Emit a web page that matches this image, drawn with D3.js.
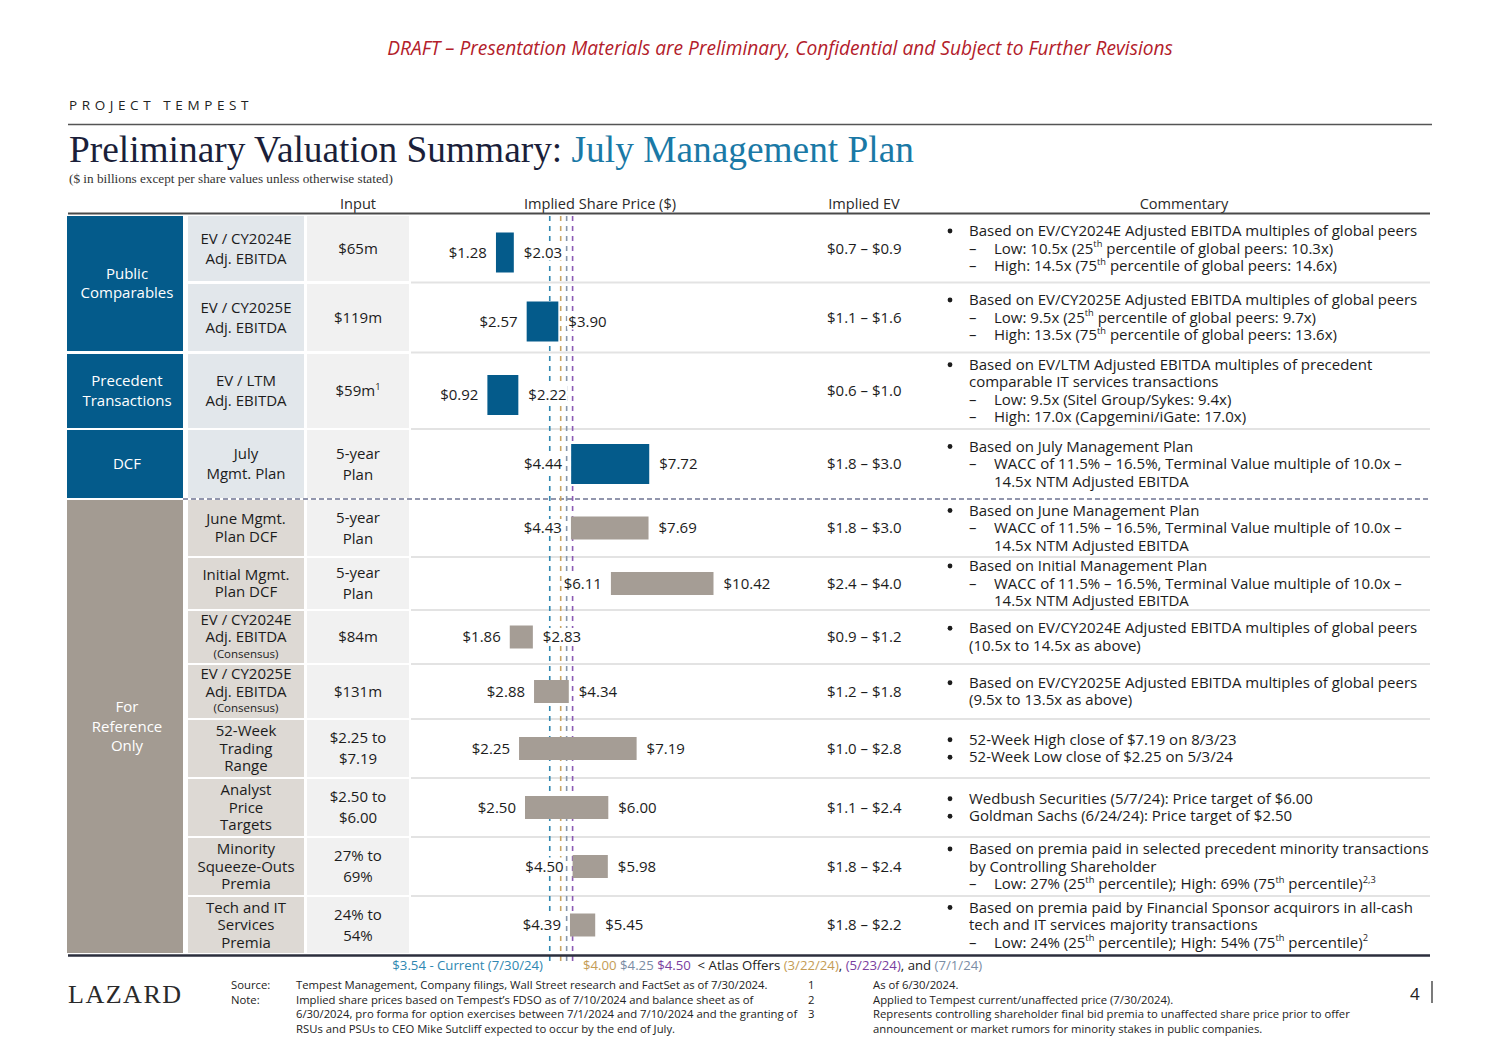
<!DOCTYPE html>
<html>
<head>
<meta charset="utf-8">
<script src="https://cdn.jsdelivr.net/npm/d3@7"></script>
<style>
  body { margin: 0; background: #fff; }
  svg { display: block; }
</style>
</head>
<body>
<svg id="chart" width="1500" height="1060"></svg>
<script>
// ---- data ----
const groupNames = [["Public", "Comparables"], ["Precedent", "Transactions"], ["DCF"], ["For", "Reference", "Only"]];
const groupRows = [[0, 1], [2, 2], [3, 3], [4, 11]];

const metricLabels = [
  ["EV / CY2024E", "Adj. EBITDA"],
  ["EV / CY2025E", "Adj. EBITDA"],
  ["EV / LTM", "Adj. EBITDA"],
  ["July", "Mgmt. Plan"],
  ["June Mgmt.", "Plan DCF"],
  ["Initial Mgmt.", "Plan DCF"],
  ["EV / CY2024E", "Adj. EBITDA", "(Consensus)"],
  ["EV / CY2025E", "Adj. EBITDA", "(Consensus)"],
  ["52-Week", "Trading", "Range"],
  ["Analyst", "Price", "Targets"],
  ["Minority", "Squeeze-Outs", "Premia"],
  ["Tech and IT", "Services", "Premia"]
];

const inputLabels = [
  ["$65m"], ["$119m"], ["$59m^1^"], ["5-year", "Plan"], ["5-year", "Plan"], ["5-year", "Plan"],
  ["$84m"], ["$131m"], ["$2.25 to", "$7.19"], ["$2.50 to", "$6.00"], ["27% to", "69%"], ["24% to", "54%"]
];

const lowPrices  = [1.28, 2.57, 0.92, 4.44, 4.43, 6.11, 1.86, 2.88, 2.25, 2.50, 4.50, 4.39];
const highPrices = [2.03, 3.90, 2.22, 7.72, 7.69, 10.42, 2.83, 4.34, 7.19, 6.00, 5.98, 5.45];

const impliedEV = [
  "$0.7 – $0.9", "$1.1 – $1.6", "$0.6 – $1.0", "$1.8 – $3.0", "$1.8 – $3.0", "$2.4 – $4.0",
  "$0.9 – $1.2", "$1.2 – $1.8", "$1.0 – $2.8", "$1.1 – $2.4", "$1.8 – $2.4", "$1.8 – $2.2"
];

// b = bullet, bc = bullet continued, d = dash, dc = dash continued
const commentary = [
  [["b", "Based on EV/CY2024E Adjusted EBITDA multiples of global peers"],
   ["d", "Low: 10.5x (25^th^ percentile of global peers: 10.3x)"],
   ["d", "High: 14.5x (75^th^ percentile of global peers: 14.6x)"]],
  [["b", "Based on EV/CY2025E Adjusted EBITDA multiples of global peers"],
   ["d", "Low: 9.5x (25^th^ percentile of global peers: 9.7x)"],
   ["d", "High: 13.5x (75^th^ percentile of global peers: 13.6x)"]],
  [["b", "Based on EV/LTM Adjusted EBITDA multiples of precedent"],
   ["bc", "comparable IT services transactions"],
   ["d", "Low: 9.5x (Sitel Group/Sykes: 9.4x)"],
   ["d", "High: 17.0x (Capgemini/iGate: 17.0x)"]],
  [["b", "Based on July Management Plan"],
   ["d", "WACC of 11.5% – 16.5%, Terminal Value multiple of 10.0x –"],
   ["dc", "14.5x NTM Adjusted EBITDA"]],
  [["b", "Based on June Management Plan"],
   ["d", "WACC of 11.5% – 16.5%, Terminal Value multiple of 10.0x –"],
   ["dc", "14.5x NTM Adjusted EBITDA"]],
  [["b", "Based on Initial Management Plan"],
   ["d", "WACC of 11.5% – 16.5%, Terminal Value multiple of 10.0x –"],
   ["dc", "14.5x NTM Adjusted EBITDA"]],
  [["b", "Based on EV/CY2024E Adjusted EBITDA multiples of global peers"],
   ["bc", "(10.5x to 14.5x as above)"]],
  [["b", "Based on EV/CY2025E Adjusted EBITDA multiples of global peers"],
   ["bc", "(9.5x to 13.5x as above)"]],
  [["b", "52-Week High close of $7.19 on 8/3/23"],
   ["b", "52-Week Low close of $2.25 on 5/3/24"]],
  [["b", "Wedbush Securities (5/7/24): Price target of $6.00"],
   ["b", "Goldman Sachs (6/24/24): Price target of $2.50"]],
  [["b", "Based on premia paid in selected precedent minority transactions"],
   ["bc", "by Controlling Shareholder"],
   ["d", "Low: 27% (25^th^ percentile); High: 69% (75^th^ percentile)^2,3^"]],
  [["b", "Based on premia paid by Financial Sponsor acquirors in all-cash"],
   ["bc", "tech and IT services majority transactions"],
   ["d", "Low: 24% (25^th^ percentile); High: 54% (75^th^ percentile)^2^"]]
];

const refPrices = [3.54, 4.00, 4.25, 4.50];

const columnHeads = ["Input", "Implied Share Price ($)", "Implied EV", "Commentary"];

const footerLeft = [
  "Tempest Management, Company filings, Wall Street research and FactSet as of 7/30/2024.",
  "Implied share prices based on Tempest’s FDSO as of 7/10/2024 and balance sheet as of",
  "6/30/2024, pro forma for option exercises between 7/1/2024 and 7/10/2024 and the granting of",
  "RSUs and PSUs to CEO Mike Sutcliff expected to occur by the end of July."
];
const footerNums = ["1", "2", "3"];
const footerRight = [
  "As of 6/30/2024.",
  "Applied to Tempest current/unaffected price (7/30/2024).",
  "Represents controlling shareholder final bid premia to unaffected share price prior to offer",
  "announcement or market rumors for minority stakes in public companies."
];

// ---- layout / style ----
const SANS = "'Open Sans', 'Noto Sans', sans-serif";
const SERIF = "'Liberation Serif', 'DejaVu Serif', serif";
const BLUE = "#045b8b", GREY = "#a39b92", GREYBAR = "#a59d95";
const TXT = "#1c1c1c";
const FS = 15;
const refColors = ["#2f87b1", "#c9a565", "#8595aa", "#8c5ab4"];

const rowTop = [216, 284, 354, 430, 500, 558, 611, 665, 720, 779, 838, 897];
const rowBot = [281, 351, 428, 498, 556, 609, 663, 718, 777, 836, 895, 953];
const rowMid = i => (rowTop[i] + rowBot[i]) / 2;
const isRef = i => i >= 4;

const x = d3.scaleLinear().domain([0, 11]).range([465.5, 465.5 + 11 * 23.8]);

const svg = d3.select("#chart");

// text with ^sup^ parts
function rich(sel, str, fs) {
  let shifted = false;
  str.split("^").forEach((p, k) => {
    if (!p) return;
    const sup = k % 2 === 1;
    const t = sel.append("tspan").text(p);
    if (sup) {
      t.attr("font-size", fs * 0.62);
      if (!shifted) { t.attr("dy", -fs * 0.42); shifted = true; }
    } else if (shifted) {
      t.attr("dy", fs * 0.42); shifted = false;
    }
  });
  return sel;
}

function fitWidth(sel, w) {
  const fs = +sel.attr("font-size");
  const len = sel.node().getComputedTextLength();
  sel.attr("font-size", fs * w / len);
}

// ---- header ----
svg.append("text").attr("x", 780).attr("y", 55).attr("text-anchor", "middle")
  .attr("font-family", SANS).attr("font-style", "italic").attr("font-size", 17)
  .attr("fill", "#b3202a")
  .text("DRAFT – Presentation Materials are Preliminary, Confidential and Subject to Further Revisions")
  .call(fitWidth, 786);

svg.append("text").attr("x", 69).attr("y", 110).attr("font-family", SANS)
  .attr("font-size", 13.5).attr("letter-spacing", 4.6).attr("fill", "#222").text("PROJECT TEMPEST");

svg.append("line").attr("x1", 68).attr("x2", 1432).attr("y1", 124.5).attr("y2", 124.5)
  .attr("stroke", "#555").attr("stroke-width", 1.5);

const title = svg.append("text").attr("x", 69).attr("y", 162).attr("font-family", SERIF)
  .attr("font-size", 36);
title.append("tspan").attr("fill", "#1b1f3a").text("Preliminary Valuation Summary: ");
title.append("tspan").attr("fill", "#1a79a6").text("July Management Plan");
title.call(fitWidth, 845);

svg.append("text").attr("x", 69).attr("y", 183).attr("font-family", SERIF).attr("font-size", 12)
  .attr("fill", "#333").text("($ in billions except per share values unless otherwise stated)")
  .call(fitWidth, 324);

const headX = [358, 600, 864, 1184];
svg.selectAll("text.head").data(columnHeads).join("text").attr("class", "head")
  .attr("x", (d, i) => headX[i]).attr("y", 209).attr("text-anchor", "middle")
  .attr("font-family", SANS).attr("font-size", 14.6).attr("fill", "#2a2a2a").text(d => d);

svg.append("line").attr("x1", 68).attr("x2", 1430).attr("y1", 213.5).attr("y2", 213.5)
  .attr("stroke", "#4a4a4a").attr("stroke-width", 2);

// ---- table cells ----
const gCells = svg.append("g");
groupRows.forEach((r, gi) => {
  const y0 = rowTop[r[0]], y1 = rowBot[r[1]];
  gCells.append("rect").attr("x", 67).attr("width", 116).attr("y", y0).attr("height", y1 - y0)
    .attr("fill", gi < 3 ? BLUE : GREY);
  const names = groupNames[gi];
  const mid = (y0 + y1) / 2;
  names.forEach((n, k) => {
    gCells.append("text").attr("x", 127).attr("y", mid + (k - (names.length - 1) / 2) * 19.5 + 5)
      .attr("text-anchor", "middle").attr("font-family", SANS).attr("font-size", FS)
      .attr("fill", "#fff").text(n);
  });
});

metricLabels.forEach((lines, i) => {
  gCells.append("rect").attr("x", 188).attr("width", 116).attr("y", rowTop[i])
    .attr("height", rowBot[i] - rowTop[i]).attr("fill", isRef(i) ? "#ddd9d4" : "#e2e7eb");
  gCells.append("rect").attr("x", 307).attr("width", 102).attr("y", rowTop[i])
    .attr("height", rowBot[i] - rowTop[i]).attr("fill", "#f1f1f1");
  const sp = isRef(i) ? 17.5 : 20;
  lines.forEach((l, k) => {
    const small = l === "(Consensus)";
    gCells.append("text").attr("x", 246)
      .attr("y", rowMid(i) + (k - (lines.length - 1) / 2) * sp + (small ? 3 : 5))
      .attr("text-anchor", "middle").attr("font-family", SANS)
      .attr("font-size", small ? 11.5 : FS).attr("fill", TXT).text(l);
  });
  const inp = inputLabels[i];
  inp.forEach((l, k) => {
    const t = gCells.append("text").attr("x", 358)
      .attr("y", rowMid(i) + (k - (inp.length - 1) / 2) * 21 + 5)
      .attr("text-anchor", "middle").attr("font-family", SANS).attr("font-size", FS)
      .attr("fill", TXT);
    rich(t, l, FS);
  });
});

// row separators
for (let i = 0; i < rowTop.length - 1; i++) {
  const y = (rowBot[i] + rowTop[i + 1]) / 2;
  if (i === 3) {
    svg.append("line").attr("x1", 183).attr("x2", 1430).attr("y1", y).attr("y2", y)
      .attr("stroke", "#6f7493").attr("stroke-width", 1.5).attr("stroke-dasharray", "5,3");
  } else {
    svg.append("line").attr("x1", 411).attr("x2", 1430).attr("y1", y).attr("y2", y)
      .attr("stroke", "#e3e3e3").attr("stroke-width", 2);
  }
}

// ---- reference price lines ----
svg.append("g").selectAll("line").data(refPrices).join("line")
  .attr("x1", d => x(d)).attr("x2", d => x(d)).attr("y1", 216).attr("y2", 961)
  .attr("stroke", (d, i) => refColors[i]).attr("stroke-width", 1.6)
  .attr("stroke-dasharray", "5,5");

// ---- bars ----
const barOff = i => (i < 3 ? 4 : 0);
const rows = d3.range(lowPrices.length);
const gBars = svg.append("g");
gBars.selectAll("rect").data(rows).join("rect")
  .attr("x", i => x(lowPrices[i]))
  .attr("width", i => x(highPrices[i]) - x(lowPrices[i]))
  .attr("y", i => rowMid(i) + barOff(i) - (isRef(i) ? 11.5 : 20))
  .attr("height", i => (isRef(i) ? 23 : 40))
  .attr("fill", i => (isRef(i) ? GREYBAR : BLUE));

const gLabelBg = svg.append("g");
const gLabels = svg.append("g").attr("font-family", SANS).attr("font-size", FS).attr("fill", TXT);
gLabels.selectAll("text.lo").data(rows).join("text").attr("class", "lo")
  .attr("x", i => x(lowPrices[i]) - 9).attr("y", i => rowMid(i) + barOff(i) + 5)
  .attr("text-anchor", "end").text(i => "$" + d3.format(".2f")(lowPrices[i]));
gLabels.selectAll("text.hi").data(rows).join("text").attr("class", "hi")
  .attr("x", i => x(highPrices[i]) + 10).attr("y", i => rowMid(i) + barOff(i) + 5)
  .text(i => "$" + d3.format(".2f")(highPrices[i]));
// white boxes behind labels so the dashed lines break around them
gLabels.selectAll("text").each(function () {
  const b = this.getBBox();
  gLabelBg.append("rect").attr("x", b.x - 1).attr("y", b.y + 2)
    .attr("width", b.width + 2).attr("height", b.height - 3).attr("fill", "#fff");
});

// ---- implied EV ----
svg.selectAll("text.ev").data(impliedEV).join("text").attr("class", "ev")
  .attr("x", 827).attr("y", (d, i) => rowMid(i) + 5)
  .attr("font-family", SANS).attr("font-size", FS).attr("fill", TXT).text(d => d);

// ---- commentary ----
const gCom = svg.append("g").attr("font-family", SANS).attr("font-size", FS).attr("fill", TXT);
commentary.forEach((lines, i) => {
  const lh = 17.5;
  lines.forEach(([type, str], k) => {
    const yc = rowMid(i) + (k - (lines.length - 1) / 2) * lh;
    if (type === "b") {
      gCom.append("circle").attr("cx", 950).attr("cy", yc).attr("r", 2.4).attr("fill", TXT);
    }
    if (type === "d") {
      gCom.append("text").attr("x", 969).attr("y", yc + 5).text("–");
    }
    const tx = type === "b" || type === "bc" ? 969 : 994;
    rich(gCom.append("text").attr("x", tx).attr("y", yc + 5), str, FS);
  });
});

svg.append("line").attr("x1", 68).attr("x2", 1430).attr("y1", 955.5).attr("y2", 955.5)
  .attr("stroke", "#2b2e3c").attr("stroke-width", 2.5);

// ---- legend ----
const legend = svg.append("g").attr("font-family", SANS).attr("font-size", 13.2);
legend.append("text").attr("x", 543).attr("y", 970).attr("text-anchor", "end")
  .attr("fill", refColors[0]).text("$" + refPrices[0].toFixed(2) + " - Current (7/30/24)");
const lt = legend.append("text").attr("x", 583).attr("y", 970);
[
  ["$" + refPrices[1].toFixed(2) + " ", "#c49c55"],
  ["$" + refPrices[2].toFixed(2) + " ", "#7a8ca4"],
  ["$" + refPrices[3].toFixed(2), "#7a3e9e"],
  ["  < Atlas Offers ", "#222"],
  ["(3/22/24)", "#c49c55"],
  [", ", "#222"],
  ["(5/23/24)", "#7a3e9e"],
  [", and ", "#222"],
  ["(7/1/24)", "#7a8ca4"]
].forEach(([s, c]) => lt.append("tspan").attr("fill", c).attr("xml:space", "preserve").text(s));

// ---- footer ----
svg.append("text").attr("x", 68).attr("y", 1003).attr("font-family", SERIF).attr("font-size", 28)
  .attr("letter-spacing", 1.5).attr("fill", "#2a2a2a").text("LAZARD").call(fitWidth, 114);

const gFoot = svg.append("g").attr("font-family", SANS).attr("font-size", 11.3).attr("fill", "#222");
gFoot.append("text").attr("x", 231).attr("y", 989).text("Source:");
gFoot.append("text").attr("x", 231).attr("y", 1003.5).text("Note:");
footerLeft.forEach((s, k) => gFoot.append("text").attr("x", 296).attr("y", 989 + k * 14.5).text(s));
footerNums.forEach((s, k) => gFoot.append("text").attr("x", 808).attr("y", 989 + k * 14.5).text(s));
footerRight.forEach((s, k) => gFoot.append("text").attr("x", 873).attr("y", 989 + k * 14.5).text(s));

svg.append("text").attr("x", 1410).attr("y", 1000).attr("font-family", SANS).attr("font-size", 17)
  .attr("fill", "#222").text("4");
svg.append("line").attr("x1", 1432).attr("x2", 1432).attr("y1", 981).attr("y2", 1003)
  .attr("stroke", "#333").attr("stroke-width", 1.3);
</script>
</body>
</html>
